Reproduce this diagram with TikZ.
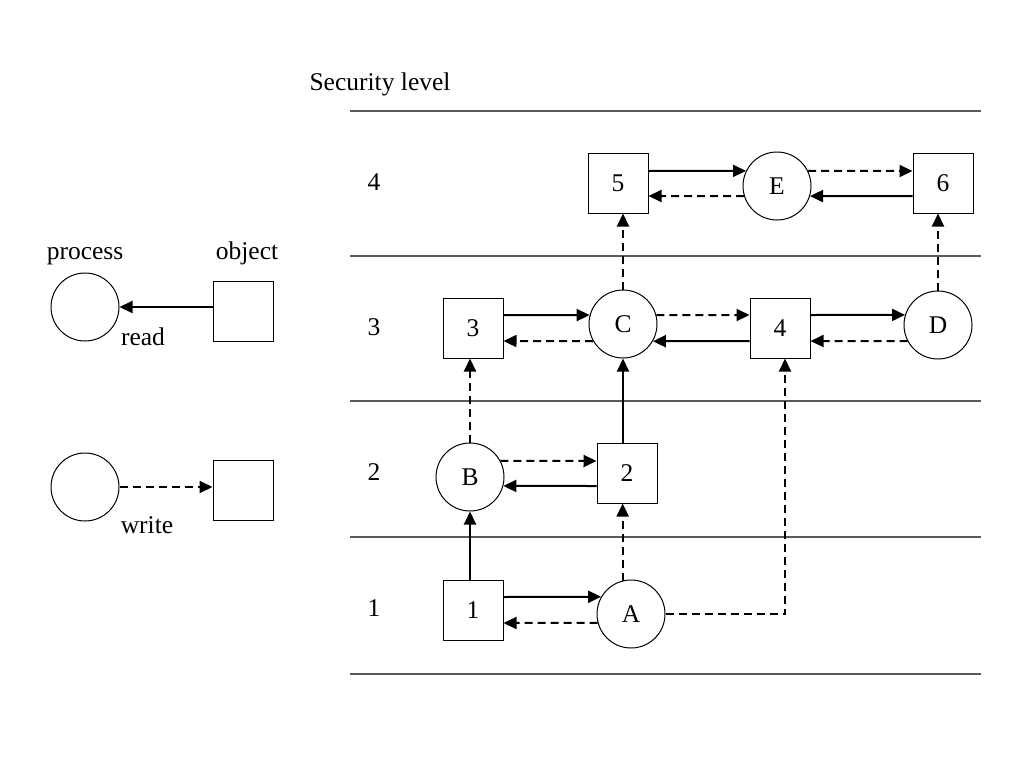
\documentclass[tikz,border=0pt]{standalone}
\usepackage{fontspec}
\setmainfont{Liberation Serif}
\usetikzlibrary{arrows.meta,calc}
\begin{document}
\begin{tikzpicture}[x=1pt,y=-1pt,
  txt/.style={font=\fontsize{25.5}{30}\selectfont},
  obj/.style={draw,line width=1pt,minimum size=60pt,inner sep=0pt,txt},
  proc/.style={draw,circle,line width=1pt,minimum size=68pt,inner sep=0pt,txt},
  lbl/.style={anchor=base,inner sep=0pt,txt},
  rd/.style={line width=2pt,-{Triangle[length=13pt,width=12pt]}},
  wr/.style={rd,dash pattern=on 8pt off 5pt},
  lvl/.style={draw=black!65,line width=1.3pt}]
\useasboundingbox (0,0) rectangle (1024,768);
% level lines
\foreach \yy in {111,256,401,537,674} \draw[lvl] (350,\yy) -- (981,\yy);
% labels
\node[lbl] (tsec) at (380,90) {Security level};
\node[lbl] (l4) at (374,190) {4};
\node[lbl] (l3) at (374,335) {3};
\node[lbl] (l2) at (374,480) {2};
\node[lbl] (l1) at (374,616) {1};
\node[lbl] (tproc) at (85,259) {process};
\node[lbl] (tobj) at (247,259) {object};
\node[lbl] (tread) at (143,345) {read};
\node[lbl] (twrite) at (147,533) {write};
% legend
\node[proc] (P1) at (85,307) {};
\node[obj] (O1) at (243,311) {};
\draw[rd] (O1.west |- P1) -- (P1.east);
\node[proc] (P2) at (85,487) {};
\node[obj] (O2) at (243,490) {};
\draw[wr] (P2.east) -- (P2.east -| O2.west);
% nodes
\node[obj] (n5) at (618,183) {5};
\node[proc] (E) at (777,186) {E};
\node[obj] (n6) at (943,183) {6};
\node[obj] (n3) at (473,328) {3};
\node[proc] (C) at (623,324) {C};
\node[obj] (n4) at (780,328) {4};
\node[proc] (D) at (938,325) {D};
\node[proc] (B) at (470,477) {B};
\node[obj] (n2) at (627,473) {2};
\node[obj] (n1) at (473,610) {1};
\node[proc] (A) at (631,614) {A};
% row 4
\draw[rd] ([yshift=12pt]n5.east) -- (E.154);
\draw[wr] (E.197) -- ([yshift=-13pt]n5.east);
\draw[wr] (E.26) -- ([yshift=12pt]n6.west);
\draw[rd] ([yshift=-13pt]n6.west) -- (E.-17);
% row 3
\draw[rd] ([yshift=13pt]n3.east) -- (C.165);
\draw[wr] (C.210) -- ([yshift=-13pt]n3.east);
\draw[wr] (C.15) -- ([yshift=13pt]n4.west);
\draw[rd] ([yshift=-13pt]n4.west) -- (C.-30);
\draw[rd] ([yshift=13pt]n4.east) -- (D.163);
\draw[wr] (D.208) -- ([yshift=-13pt]n4.east);
% row 2
\draw[wr] (B.28) -- ([yshift=12pt]n2.west);
\draw[rd] ([yshift=-13pt]n2.west) -- (B.-15);
% row 1
\draw[rd] ([yshift=13pt]n1.east) -- (A.150);
\draw[wr] (A.195) -- ([yshift=-13pt]n1.east);
% verticals
\draw[wr] (C.north) -- (C.north |- n5.south);
\draw[wr] (D.north) -- (D.north |- n6.south);
\draw[wr] (B.north) -- (B.north |- n3.south);
\draw[rd] (C.south |- n2.north) -- (C.south);
\draw[rd] (B.south |- n1.north) -- (B.south);
\draw[wr] (A.104) -- (A.104 |- n2.south);
\draw[wr] (A.east) -| ([xshift=5pt]n4.south);
\end{tikzpicture}
\end{document}
